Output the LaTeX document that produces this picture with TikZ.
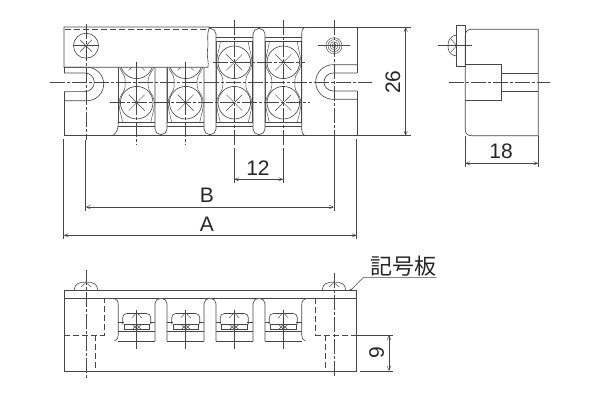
\documentclass[tikz,border=0pt]{standalone}
\usepackage{fontspec}
\setmainfont{Liberation Sans}
\newfontfamily\cjk{Noto Sans CJK JP}
\usetikzlibrary{arrows}
\definecolor{Ink}{RGB}{70,70,70}
\tikzset{
	part/.style={draw=Ink, line width=0.62pt},
	thin part/.style={draw=Ink, line width=0.45pt},
	center line/.style={draw=Ink, line width=0.5pt, dash pattern=on 15pt off 2pt on 3pt off 2pt},
	hidden line/.style={draw=Ink, line width=0.62pt, dash pattern=on 6pt off 3pt},
	ext line/.style={draw=Ink, line width=0.5pt},
	dim line/.style={draw=Ink, line width=0.5pt, <->, >=angle 45},
	dim text/.style={font=\fontsize{21}{21}\selectfont, text=black!85, inner sep=0pt}
}
\begin{document}
\begin{tikzpicture}[x=1pt, y=-1pt]
	\useasboundingbox (0,0) rectangle (600,400);
	% top view: terminal cells
	\foreach \x in {136.7,185.7,234.3,283.3} {
		\draw[part] (\x-18.4,42) -- (\x-18.4,122.7) (\x+18.4,42) -- (\x+18.4,122.7);
		\draw[part] (\x-18.4,37.7) -- (\x+18.4,37.7) (\x-18.4,41.7) -- (\x+18.4,41.7);
		\draw[part] (\x-18.4,122.7) -- (\x+18.4,122.7) (\x-18.4,126.7) -- (\x+18.4,126.7);
		\draw[thin part] (\x-14,42) .. controls (\x-15,50) and (\x-18,56) .. (\x-17.5,64) .. controls (\x-17,72) and (\x-11.5,74) .. (\x-11.5,80) -- (\x-11.5,86) .. controls (\x-11.5,92) and (\x-17,94) .. (\x-17.5,102) .. controls (\x-18,110) and (\x-15,116) .. (\x-14,122.7);
		\draw[thin part] (\x+14,42) .. controls (\x+15,50) and (\x+18,56) .. (\x+17.5,64) .. controls (\x+17,72) and (\x+11.5,74) .. (\x+11.5,80) -- (\x+11.5,86) .. controls (\x+11.5,92) and (\x+17,94) .. (\x+17.5,102) .. controls (\x+18,110) and (\x+15,116) .. (\x+14,122.7);
		\foreach \y in {62.3,102.7} {
			\draw[part, fill=white] (\x,\y) circle (16.3pt);
			\draw[thin part] (\x-8,\y-8) -- (\x+8,\y+8) (\x-8,\y+8) -- (\x+8,\y-8);
		}
	}
	% barriers
	\foreach \x in {161,210,259} {
		\draw[part, fill=white, rounded corners=5.5pt] (\x-6,28.5) rectangle (\x+6,134.5);
	}
	% body
	\draw[part] (64,135.7) -- (357,135.7);
	\draw[part] (64,100.7) -- (64,135.7);
	\draw[part] (357,27) -- (357,64.7) (357,99.3) -- (357,135.7);
	\draw[part] (209,27) -- (357,27);
	\draw[part] (113.3,135) .. controls (117,133) and (118.3,128) .. (118.3,122);
	\draw[part] (305,135.7) .. controls (303,134.5) and (301.7,133) .. (301.7,130) -- (301.7,33) .. controls (301.7,30) and (303,28) .. (305,27);
	% marking plate
	\draw[part, fill=white] (64,67.3) -- (64,27) -- (209.5,27) .. controls (206,36) and (209,42) .. (207.5,50) .. controls (206.5,56) and (209,62) .. (208,67.3) -- cycle;
	\draw[hidden line] (65,29.7) -- (207,29.7);
	\foreach \x in {136.7,185.7} {
		\draw[thin part] (\x,61.7) -- (\x,100);
	}
	% left slot
	\draw[part] (64,67.3) -- (87,67.3) arc (90:-90:16.7pt) -- (64,100.7);
	\draw[part] (64,73) -- (85,73) arc (90:-90:9.3pt) -- (64,91.7);
	\draw[part] (64,67.3) -- (64,73) (64,91.7) -- (64,100.7);
	% right slot
	\draw[part] (357,64.7) -- (333,64.7) arc (90:270:17.3pt) -- (357,99.3);
	\draw[part] (357,73) -- (333,73) arc (90:270:9pt) -- (357,91);
	\draw[part] (357,64.7) -- (357,73) (357,91) -- (357,99.3);
	% plate screws
	\draw[part] (86,45.7) circle (12.5pt);
	\draw[thin part] (80,39.7) -- (92,51.7) (80,51.7) -- (92,39.7);
	\foreach \r in {8,6,4,2} {
		\draw[thin part] (334,45.7) circle (\r pt);
	}
	\draw[thin part] (73,45.7) -- (99,45.7) (318,45.7) -- (350,45.7);
	% center lines
	\draw[center line] (50,82.3) -- (372,82.3);
	\draw[center line] (110,102.7) -- (310,102.7);
	\draw[center line] (212.5,62.3) -- (305,62.3);
	\draw[center line] (86,24) -- (86,140);
	\draw[center line] (334,20) -- (334,140);
	\draw[center line] (136.7,100) -- (136.7,145);
	\draw[center line] (185.7,100) -- (185.7,145);
	\draw[center line] (234.3,20) -- (234.3,145);
	\draw[center line] (283.3,20) -- (283.3,145);
	% top view dimensions
	\coordinate (d26a) at (405.7,27);
	\coordinate (d26b) at (405.7,135.7);
	\draw[ext line] (357,27) -- (411,27) (357,135.7) -- (411,135.7);
	\draw[dim line] (d26a) -- (d26b);
	\node[dim text, rotate=90] (l26) at (393,82.3) {26};
	\coordinate (d12a) at (234.3,179.3);
	\coordinate (d12b) at (283.3,179.3);
	\draw[ext line] (234.3,148) -- (234.3,183) (283.3,148) -- (283.3,183);
	\draw[dim line] (d12a) -- (d12b);
	\node[dim text] (l12) at (258,168) {12};
	\coordinate (dBa) at (85.7,207);
	\coordinate (dBb) at (334,207);
	\draw[ext line] (85.7,140) -- (85.7,210.5) (334,140) -- (334,210.5);
	\draw[dim line] (dBa) -- (dBb);
	\node[dim text] (lB) at (207,195) {B};
	\coordinate (dAa) at (63.7,235.3);
	\coordinate (dAb) at (356.5,235.3);
	\draw[ext line] (63.7,139) -- (63.7,239) (356.5,139) -- (356.5,239);
	\draw[dim line] (dAa) -- (dAb);
	\node[dim text] (lA) at (207,224) {A};
	% side view
	\draw[part] (538.3,29.3) -- (471,29.3) arc (90:180:5.7pt) -- (465.3,130) arc (180:270:5.7pt) -- (538.3,135.7) -- cycle;
	\draw[part] (456.7,25.3) rectangle (465.3,66.7);
	\draw[part] (456.7,35) .. controls (449,36) and (448,42) .. (448,45.7) .. controls (448,50) and (449,55) .. (456.7,56);
	\draw[thin part] (451,39) -- (456.7,45.7) -- (451,52);
	\draw[part] (465.3,64) -- (501.7,64) -- (501.7,100.7) -- (465.3,100.7);
	\draw[part] (501.7,73.3) -- (538.3,73.3) (501.7,91) -- (538.3,91);
	\draw[thin part] (438,45.7) -- (472,45.7);
	\draw[center line] (449,82.3) -- (550,82.3);
	\coordinate (d18a) at (465.3,163.3);
	\coordinate (d18b) at (538.3,163.3);
	\draw[ext line] (465.3,135.7) -- (465.3,167) (538.3,135.7) -- (538.3,167);
	\draw[dim line] (d18a) -- (d18b);
	\node[dim text] (l18) at (501,151.7) {18};
	% front view
	\draw[part] (64,290) rectangle (356.5,371);
	\draw[part] (64,298.3) -- (356.5,298.3);
	\foreach \x in {136.7,185.7,234.3,283.3} {
		\draw[part] (\x-18.4,331.7) -- (\x+18.4,331.7) (\x-18.4,341) -- (\x+18.4,341);
		\draw[part] (\x-18.4,322.3) -- (\x-13,322.3) (\x+13,322.3) -- (\x+18.4,322.3);
		\draw[part] (\x-13,324.3) -- (\x+13,324.3);
		\draw[part, rounded corners=4pt] (\x-14,324.3) -- (\x-14,313.5) -- (\x+14,313.5) -- (\x+14,324.3);
		\draw[part] (\x-12.7,324.3) -- (\x-12.7,329) -- (\x+12.7,329) -- (\x+12.7,324.3);
		\draw[thin part] (\x,310) -- (\x,349.3);
		\draw[thin part] (\x-5,318) -- (\x,312.5) -- (\x+5,318);
		\draw[thin part] (\x-4,329) -- (\x,325) -- (\x+4,329);
		\draw[thin part] (\x-4,325) -- (\x,329) -- (\x+4,325);
	}
	\foreach \x in {161,210,259} {
		\draw[part, fill=white, rounded corners=5.5pt] (\x-6,341) -- (\x-6,298.3) -- (\x+6,298.3) -- (\x+6,341);
	}
	\draw[part] (113.3,298.3) .. controls (116.5,299) and (118.3,301) .. (118.3,305) -- (118.3,335) .. controls (118.3,338) and (117,340) .. (114.5,341);
	\draw[part] (306.5,298.3) .. controls (303.5,299) and (301.7,301) .. (301.7,305) -- (301.7,335) .. controls (301.7,338) and (303,340) .. (305.5,341);
	\foreach \x in {86,334} {
		\draw[part] (\x-11.7,290) .. controls (\x-11.7,284) and (\x-7,282) .. (\x,282) .. controls (\x+7,282) and (\x+11.7,284) .. (\x+11.7,290);
		\draw[thin part] (\x-5,287) -- (\x,282.5) -- (\x+5,287);
	}
	\draw[center line] (86,270) -- (86,378);
	\draw[center line] (334,273) -- (334,377);
	\draw[hidden line] (64,335) -- (104.3,335) -- (104.3,298.3);
	\draw[hidden line] (95.3,335) -- (95.3,371);
	\draw[hidden line] (356.5,335) -- (315.7,335) -- (315.7,298.3);
	\draw[hidden line] (325,335) -- (325,371);
	% front view dimension and leader
	\coordinate (d9a) at (389,335);
	\coordinate (d9b) at (389,371);
	\draw[ext line] (356.5,335) -- (393,335) (360,371) -- (393,371);
	\draw[dim line] (d9a) -- (d9b);
	\node[dim text, rotate=90] (l9) at (376.7,353) {9};
	\node[font=\cjk\fontsize{22}{22}\selectfont, text=black!85, inner sep=0pt] (plate) at (403,265.7) {記号板};
	\coordinate (leaderdot) at (351,290);
	\coordinate (leaderknee) at (363.3,277.3);
	\coordinate (leaderend) at (436.7,277.3);
	\fill[Ink] (leaderdot) circle (1.4pt);
	\draw[ext line] (leaderdot) -- (leaderknee) -- (leaderend);
\end{tikzpicture}
\end{document}
